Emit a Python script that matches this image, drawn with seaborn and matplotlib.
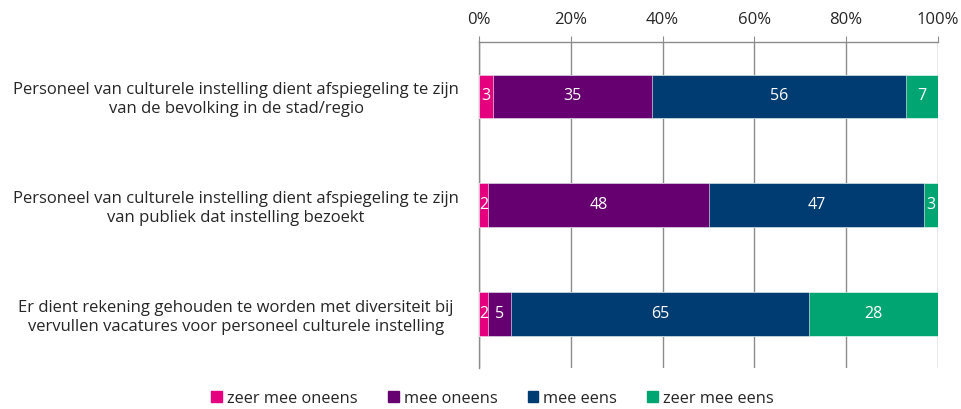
import numpy as np
import pandas as pd
import matplotlib
matplotlib.use("Agg")
import matplotlib.pyplot as plt
import seaborn as sns

# ----------------------------
# data
# ----------------------------
statements = [
    "Personeel van culturele instelling dient afspiegeling te zijn\nvan de bevolking in de stad/regio",
    "Personeel van culturele instelling dient afspiegeling te zijn\nvan publiek dat instelling bezoekt",
    "Er dient rekening gehouden te worden met diversiteit bij\nvervullen vacatures voor personeel culturele instelling",
]
answers = ["zeer mee oneens", "mee oneens", "mee eens", "zeer mee eens"]
zeer_mee_oneens = [3, 2, 2]
mee_oneens = [35, 48, 5]
mee_eens = [56, 47, 65]
zeer_mee_eens = [7, 3, 28]
xticks_pct = [0, 20, 40, 60, 80, 100]

colors = ["#E5007D", "#660070", "#003C71", "#00A572"]

# ----------------------------
# prepare
# ----------------------------
vals = np.array([zeer_mee_oneens, mee_oneens, mee_eens, zeer_mee_eens], dtype=float)
pct = vals / vals.sum(axis=0) * 100
cum = np.cumsum(pct, axis=0)

sns.set_style("white")
plt.rcParams['font.family'] = ['Open Sans', 'DejaVu Sans']

fig = plt.figure(figsize=(9.62, 4.09), dpi=100)
ax = fig.add_axes([0.498, 0.100, 0.477, 0.797])

# stacked bars: draw cumulative totals from largest down
for i in range(len(answers) - 1, -1, -1):
    df = pd.DataFrame({"stmt": statements, "cum": cum[i]})
    sns.barplot(data=df, x="cum", y="stmt", orient="h", color=colors[i],
                width=0.4, edgecolor="white", linewidth=0.4, ax=ax,
                saturation=1, zorder=3)

# labels in the segments
for i in range(len(answers)):
    for j in range(len(statements)):
        left = cum[i][j] - pct[i][j]
        ax.text(left + pct[i][j] / 2, j, f"{int(vals[i][j])}", ha="center",
                va="center", color="white", fontsize=11.5, zorder=4)

ax.set_xlim(0, 100)
ax.set_ylim(2.5, -0.5)
ax.set_xticks(xticks_pct)
ax.set_xticklabels([f"{t}%" for t in xticks_pct])
ax.xaxis.tick_top()
ax.tick_params(axis="x", which="major", direction="out", length=4,
               color="#8c8c8c", labelsize=12, pad=6)
ax.grid(axis="x", color="#8c8c8c", linewidth=1, zorder=0)
ax.set_axisbelow(True)

ax.set_yticks(range(len(statements)))
ax.set_yticklabels(statements, fontsize=12, ha="center",
                   multialignment="center", linespacing=1.25)
ax.tick_params(axis="y", which="major", length=0, pad=175)
ax.set_yticks([-0.5, 0.5, 1.5, 2.5], minor=True)
ax.tick_params(axis="y", which="minor", length=6, color="#8c8c8c", width=1)
ax.set_xlabel("")
ax.set_ylabel("")

for s in ["right", "bottom"]:
    ax.spines[s].set_visible(False)
for s in ["left", "top"]:
    ax.spines[s].set_color("#8c8c8c")
    ax.spines[s].set_linewidth(1)

handles = [plt.Rectangle((0, 0), 1, 1, color=c) for c in colors]
fig.legend(handles, answers, loc="lower center", ncol=4, frameon=False,
           fontsize=11.8, handlelength=0.65, handleheight=0.65,
           handletextpad=0.3, columnspacing=1.85, bbox_to_anchor=(0.512, -0.03))

plt.savefig("out.png", dpi=100)
